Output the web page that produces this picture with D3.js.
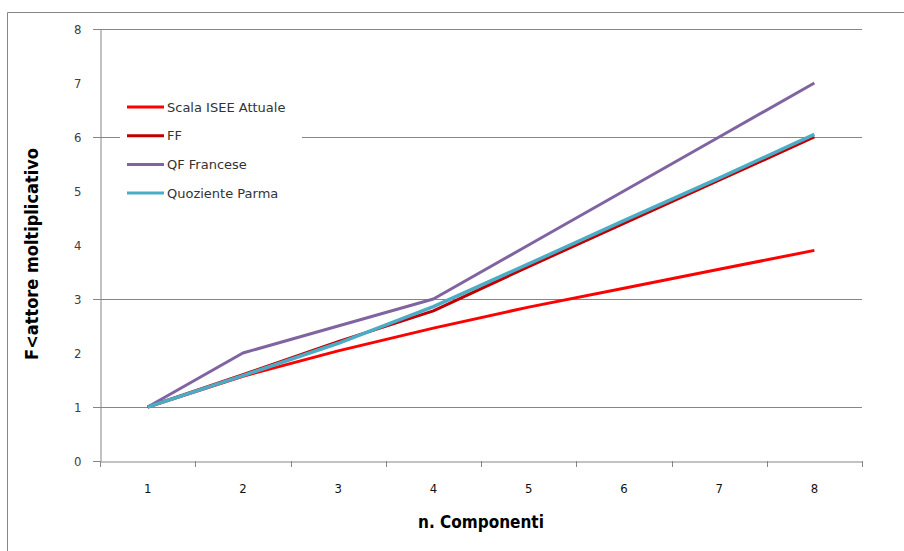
<!DOCTYPE html>
<html><head><meta charset="utf-8">
<script src="https://cdn.jsdelivr.net/npm/d3@7"></script>
<style>body{margin:0;background:#fff}svg{display:block}</style>
</head><body>
<svg id="c" width="904" height="551"></svg>
<script>
const categories = [1,2,3,4,5,6,7,8];
const seriesNames = ["Scala ISEE Attuale","FF","QF Francese","Quoziente Parma"];
const iseeValues  = [1,1.57,2.04,2.46,2.85,3.20,3.55,3.90];
const ffValues    = [1,1.60,2.21,2.78,3.60,4.40,5.20,6.00];
const qfValues    = [1,2.00,2.50,3.00,4.00,5.00,6.00,7.00];
const parmaValues = [1,1.58,2.18,2.86,3.65,4.45,5.24,6.05];
const yTicks = [0,1,2,3,4,5,6,7,8];
const gridValues = [1,3,6,8];
const colors = ["#FF0000","#C00000","#8064A2","#4BACC6"];

const svg = d3.select("#c");
const L=100, R=862, T=29, B=461;
const FONT = "'DejaVu Sans Condensed','Liberation Sans',sans-serif";
// outer chart border (only top and left visible)
svg.append("line").attr("x1",7.5).attr("x2",904).attr("y1",12.5).attr("y2",12.5).attr("stroke","#868686");
svg.append("line").attr("x1",7.5).attr("x2",7.5).attr("y1",12.5).attr("y2",551).attr("stroke","#868686");

const x = d3.scaleBand().domain(categories).range([L,R]);
const y = d3.scaleLinear().domain([0,8]).range([B,T]);

// gridlines
svg.append("g").selectAll("line").data(gridValues).join("line")
  .attr("x1",L).attr("x2",R).attr("y1",d=>Math.round(y(d))+0.5).attr("y2",d=>Math.round(y(d))+0.5)
  .attr("stroke","#868686").attr("stroke-width",1);

// y axis
const ya = svg.append("g").attr("transform",`translate(${L+0.5},0)`)
  .call(d3.axisLeft(y).tickValues(yTicks).tickSize(0).tickPadding(19).tickFormat(d3.format("d")));
ya.select(".domain").attr("stroke","#868686");
ya.selectAll("text").attr("font-family",FONT).attr("font-size",13).attr("fill","#404040");
svg.append("g").selectAll("line").data([0].concat(gridValues)).join("line")
  .attr("x1",L-7).attr("x2",L).attr("y1",d=>Math.round(y(d))+0.5).attr("y2",d=>Math.round(y(d))+0.5)
  .attr("stroke","#868686");

// x axis
const xa = svg.append("g").attr("transform",`translate(0,${B+0.5})`)
  .call(d3.axisBottom(x).tickSize(0).tickPadding(22).tickFormat(d3.format("d")));
xa.select(".domain").attr("stroke","#868686");
xa.selectAll("text").attr("font-family",FONT).attr("font-size",13).attr("fill","#111");
const bounds = categories.map(c=>x(c)).concat([R]);
svg.append("g").selectAll("line").data(bounds).join("line")
  .attr("x1",d=>Math.round(d)+0.5).attr("x2",d=>Math.round(d)+0.5).attr("y1",B).attr("y2",B+6)
  .attr("stroke","#868686");

// lines
const data = [iseeValues,ffValues,qfValues,parmaValues];
const line = d3.line().x((d,i)=>x(categories[i])+x.bandwidth()/2).y(d=>y(d));
const drawOrder = [0,2,1,3];
drawOrder.forEach(k=>{
  svg.append("path").datum(data[k]).attr("d",line).attr("fill","none")
    .attr("stroke",colors[k]).attr("stroke-width",k===3?3.5:3).attr("stroke-linejoin","round");
});

// legend
const lg = svg.append("g");
lg.append("rect").attr("x",120).attr("y",93).attr("width",182).attr("height",112).attr("fill","#fff");
seriesNames.forEach((n,i)=>{
  const yy = 107 + i*28.7;
  lg.append("line").attr("x1",127).attr("x2",164).attr("y1",yy).attr("y2",yy)
    .attr("stroke",colors[i]).attr("stroke-width",3);
  lg.append("text").attr("x",167).attr("y",yy+4.5).text(n)
    .attr("font-family","'DejaVu Sans',sans-serif")
    .attr("font-size",13).attr("fill","#333");
});

// titles
svg.append("text").attr("x",481).attr("y",528).attr("text-anchor","middle")
  .attr("font-family",FONT).attr("font-weight","bold")
  .attr("font-size",17).attr("fill","#000").text("n. Componenti");
svg.append("text").attr("transform","translate(38,254) rotate(-90)").attr("text-anchor","middle")
  .attr("font-family",FONT).attr("font-weight","bold")
  .attr("font-size",18).attr("fill","#000").text("F<attore moltiplicativo");
</script>
</body></html>
